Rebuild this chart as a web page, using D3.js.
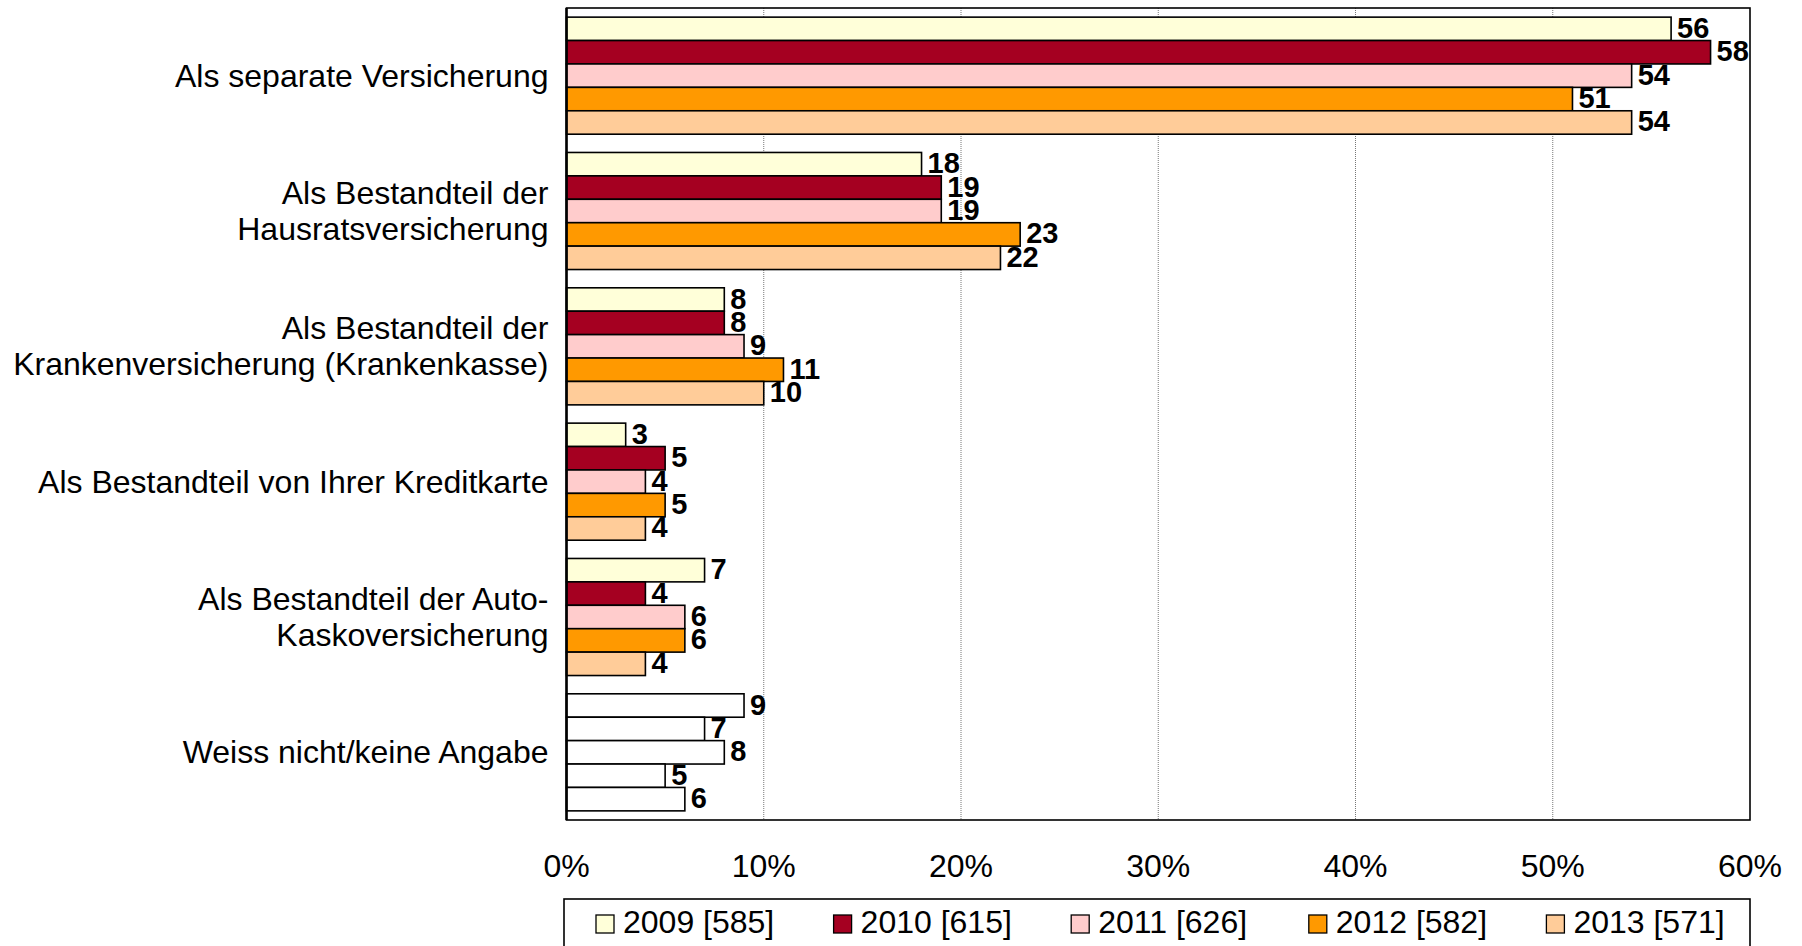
<script src="https://d3js.org/d3.v7.min.js"></script>

<style>
  body { margin: 0; background: #fff; }
  text { font-family: "Liberation Sans", Arial, sans-serif; }
</style>

<svg width=1802 height=946>
</svg>

<script>

var categories = [
  ["Als separate Versicherung"],
  ["Als Bestandteil der", "Hausratsversicherung"],
  ["Als Bestandteil der", "Krankenversicherung (Krankenkasse)"],
  ["Als Bestandteil von Ihrer Kreditkarte"],
  ["Als Bestandteil der Auto-", "Kaskoversicherung"],
  ["Weiss nicht/keine Angabe"]
];

var years = ["2009 [585]", "2010 [615]", "2011 [626]", "2012 [582]", "2013 [571]"];

var v2009 = [56, 18, 8, 3, 7, 9];
var v2010 = [58, 19, 8, 5, 4, 7];
var v2011 = [54, 19, 9, 4, 6, 8];
var v2012 = [51, 23, 11, 5, 6, 5];
var v2013 = [54, 22, 10, 4, 4, 6];

var xTicks = [0, 10, 20, 30, 40, 50, 60];

var colors = ["#FFFFD9", "#A50021", "#FFCCCC", "#FF9900", "#FFCC99"];

var series = [v2009, v2010, v2011, v2012, v2013];

var svg = d3.select('svg');

var pLeft = 566.5, pRight = 1750, pTop = 8, pBottom = 820;

var x = d3.scaleLinear().domain([0, 60]).range([pLeft, pRight]);

var y = d3.scaleBand()
  .domain(d3.range(categories.length))
  .range([pTop, pBottom])
  .paddingInner(0.135)
  .paddingOuter(0.0675);

var ySub = d3.scaleBand()
  .domain(d3.range(years.length))
  .range([0, y.bandwidth()]);

// grid lines
svg.append('g')
  .selectAll('line')
  .data(xTicks.slice(1, -1))
  .enter()
  .append('line')
    .attr('x1', d => x(d)).attr('x2', d => x(d))
    .attr('y1', pTop).attr('y2', pBottom)
    .attr('stroke', '#777')
    .attr('stroke-width', 1)
    .attr('stroke-dasharray', '1,1');

// bars
var rows = [];
categories.forEach(function(c, i) {
  series.forEach(function(s, j) {
    rows.push({ cat: i, yr: j, value: s[i] });
  });
});

var last = categories.length - 1;

svg.append('g')
  .selectAll('rect')
  .data(rows)
  .enter()
  .append('rect')
    .attr('x', x(0))
    .attr('y', d => y(d.cat) + ySub(d.yr))
    .attr('width', d => x(d.value) - x(0))
    .attr('height', ySub.bandwidth())
    .attr('fill', d => d.cat == last ? '#fff' : colors[d.yr])
    .attr('stroke', '#000')
    .attr('stroke-width', 1.6);

// value labels
svg.append('g')
  .selectAll('text')
  .data(rows)
  .enter()
  .append('text')
    .attr('x', d => x(d.value) + 6)
    .attr('y', d => y(d.cat) + ySub(d.yr) + ySub.bandwidth() / 2 + 9)
    .attr('font-size', 29)
    .attr('font-weight', 'bold')
    .attr('fill', '#000')
    .text(d => d.value);

// frame
svg.append('rect')
  .attr('x', pLeft).attr('y', pTop)
  .attr('width', pRight - pLeft).attr('height', pBottom - pTop)
  .attr('fill', 'none')
  .attr('stroke', '#000')
  .attr('stroke-width', 1.6);
svg.append('line')
  .attr('x1', pLeft).attr('x2', pLeft)
  .attr('y1', pTop).attr('y2', pBottom)
  .attr('stroke', '#000').attr('stroke-width', 2.5);

// category labels
var catG = svg.append('g')
  .selectAll('text')
  .data(categories)
  .enter()
  .append('text')
    .attr('text-anchor', 'end')
    .attr('font-size', 32)
    .attr('fill', '#000')
    .attr('transform', (d, i) => 'translate(' + (pLeft - 18) + ',' + (y(i) + y.bandwidth() / 2) + ')');

catG.selectAll('tspan')
  .data(d => d.map((t, k) => ({ t: t, k: k, n: d.length })))
  .enter()
  .append('tspan')
    .attr('x', 0)
    .attr('y', d => (d.k - (d.n - 1) / 2) * 36 + 11)
    .text(d => d.t);

// x axis labels
svg.append('g')
  .selectAll('text')
  .data(xTicks)
  .enter()
  .append('text')
    .attr('x', d => x(d))
    .attr('y', 877)
    .attr('text-anchor', 'middle')
    .attr('font-size', 32)
    .attr('fill', '#000')
    .text(d => d + '%');

// legend
svg.append('rect')
  .attr('x', 564).attr('y', 899)
  .attr('width', 1750 - 564).attr('height', 70)
  .attr('fill', '#fff')
  .attr('stroke', '#000')
  .attr('stroke-width', 1.6);

var leg = svg.append('g')
  .selectAll('g')
  .data(years)
  .enter()
  .append('g')
    .attr('transform', (d, i) => 'translate(' + (596 + i * 237.6) + ',915)');

leg.append('rect')
  .attr('width', 18).attr('height', 18)
  .attr('fill', (d, i) => colors[i])
  .attr('stroke', '#000')
  .attr('stroke-width', 1.3);

leg.append('text')
  .attr('x', 27)
  .attr('y', 18)
  .attr('font-size', 32)
  .attr('fill', '#000')
  .text(d => d);

</script>
